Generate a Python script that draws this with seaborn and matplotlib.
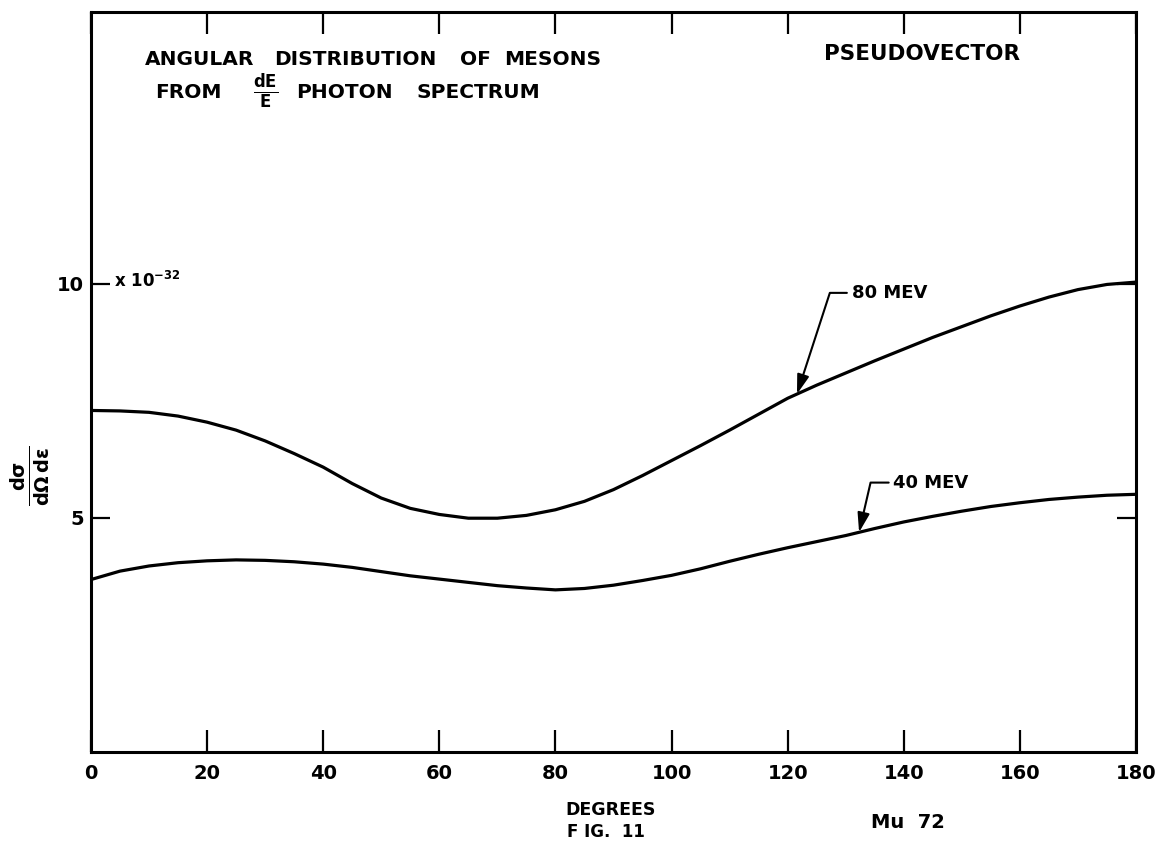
import numpy as np
import pandas as pd
import matplotlib
matplotlib.use("Agg")
import matplotlib.pyplot as plt
import seaborn as sns

# Meson angular distribution (units of 1e-32), every 5 degrees
degrees = list(range(0, 181, 5))
mev80 = [7.29, 7.28, 7.25, 7.17, 7.04, 6.87, 6.64, 6.37, 6.08, 5.73,
         5.42, 5.20, 5.07, 4.99, 4.99, 5.05, 5.17, 5.35, 5.60, 5.90,
         6.22, 6.54, 6.87, 7.21, 7.55, 7.83, 8.09, 8.35, 8.60, 8.85,
         9.08, 9.31, 9.52, 9.71, 9.87, 9.98, 10.03]
mev40 = [3.68, 3.86, 3.97, 4.04, 4.08, 4.10, 4.09, 4.06, 4.01, 3.94,
         3.85, 3.76, 3.69, 3.62, 3.55, 3.50, 3.46, 3.49, 3.56, 3.66,
         3.77, 3.91, 4.07, 4.22, 4.36, 4.49, 4.62, 4.77, 4.91, 5.03,
         5.14, 5.24, 5.32, 5.39, 5.44, 5.48, 5.50]
energy_labels = ["80 MEV", "40 MEV"]

x_ticks = [0, 20, 40, 60, 80, 100, 120, 140, 160, 180]
y_ticks = [5, 10]
y_tick_labels = ["5", "10"]

df = pd.concat([
    pd.DataFrame({"deg": degrees, "sigma": mev80, "energy": energy_labels[0]}),
    pd.DataFrame({"deg": degrees, "sigma": mev40, "energy": energy_labels[1]}),
])

sns.set_style("ticks")
plt.rcParams["font.family"] = ["DejaVu Sans"]
plt.rcParams["font.weight"] = "bold"
plt.rcParams["text.color"] = "black"
plt.rcParams["axes.labelcolor"] = "black"
plt.rcParams["mathtext.fontset"] = "dejavusans"
plt.rcParams["mathtext.default"] = "bf"

fig = plt.figure(figsize=(11.69, 8.43), dpi=100)
ax = fig.add_axes([0.0778, 0.108, 0.894, 0.878])

sns.lineplot(data=df, x="deg", y="sigma", hue="energy",
             palette=["black", "black"], linewidth=2.3, legend=False,
             ax=ax, sort=True)

ax.set_xlim(0, 180)
ax.set_ylim(0, 15.8)
for s in ax.spines.values():
    s.set_visible(True)
    s.set_linewidth(2.2)
    s.set_color("black")

ax.set_xticks(x_ticks)
ax.set_xticklabels([str(v) for v in x_ticks], fontsize=14, fontweight="bold")
ax.set_yticks(y_ticks)
ax.set_yticklabels(y_tick_labels, fontsize=14, fontweight="bold")
ax.tick_params(axis="x", direction="in", length=16, width=1.6, top=True,
               bottom=True, pad=9, colors="black")
ax.tick_params(axis="y", direction="in", length=14, width=1.6, left=True,
               right=True, pad=5, colors="black")
ax.set_xlabel("")
ax.set_ylabel("")
ax.text(-0.058, 0.373, r"$\frac{d\sigma}{d\Omega\,d\epsilon}$", fontsize=20,
        rotation=90, ha="center", va="center", transform=ax.transAxes)

# Scale factor beside the 10 tick
ax.text(4.0, 10.05, r"x 10$^{-32}$", fontsize=12, fontweight="bold",
        va="center", ha="left")

# Headings, placed word by word in axis-fraction coordinates
def px_to_axes(px, py):
    return (px - 91) / 1045, (752 - py) / 740

heading = [
    ("ANGULAR", 145, 60), ("DISTRIBUTION", 274, 60), ("OF", 460, 60),
    ("MESONS", 504, 60),
    ("FROM", 155, 93), ("PHOTON", 296, 93), ("SPECTRUM", 417, 93),
]
for word, px, py in heading:
    ax.text(*px_to_axes(px, py), word, fontsize=14.5, fontweight="bold",
            va="center", ha="left", transform=ax.transAxes)
ax.text(*px_to_axes(266, 92), r"$\frac{dE}{E}$", fontsize=17,
        va="center", ha="center", transform=ax.transAxes)
ax.text(*px_to_axes(824, 54), "PSEUDOVECTOR", fontsize=15.5, fontweight="bold",
        va="center", ha="left", transform=ax.transAxes)

# Curve labels with elbow leaders
arrow_kw = dict(arrowstyle="-|>,head_length=0.9,head_width=0.28", color="black",
                lw=1.5, shrinkA=1, shrinkB=0)
tip80 = 121.6
ax.annotate(energy_labels[0], xy=(tip80, np.interp(tip80, degrees, mev80)),
            xytext=(131.0, 9.8), fontsize=13, fontweight="bold",
            va="center", ha="left",
            arrowprops=dict(connectionstyle="angle,angleA=0,angleB=72,rad=0",
                            **arrow_kw))
tip40 = 132.3
ax.annotate(energy_labels[1], xy=(tip40, np.interp(tip40, degrees, mev40)),
            xytext=(138.2, 5.75), fontsize=13, fontweight="bold",
            va="center", ha="left",
            arrowprops=dict(connectionstyle="angle,angleA=0,angleB=77,rad=0",
                            **arrow_kw))

# Captions under the axis
fig.text(611 / 1169, 1 - 810 / 843, "DEGREES", fontsize=12.5, fontweight="bold",
         ha="center", va="center")
fig.text(606 / 1169, 1 - 832 / 843, "F IG.  11", fontsize=12, fontweight="bold",
         ha="center", va="center")
fig.text(908 / 1169, 1 - 822 / 843, "Mu  72", fontsize=14, fontweight="bold",
         ha="center", va="center")

fig.savefig("out.png", dpi=100, facecolor="white")
